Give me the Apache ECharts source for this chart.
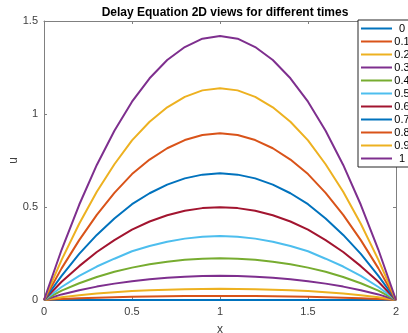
<!DOCTYPE html>
<html>
<head>
<meta charset="utf-8">
<script src="https://cdn.jsdelivr.net/npm/echarts@6/dist/echarts.min.js"></script>
<style>html,body{margin:0;padding:0;background:#fff}#c{width:408px;height:333px}</style>
</head>
<body>
<div id="c"></div>
<script>
const xValues = [0,0.1,0.2,0.3,0.4,0.5,0.6,0.7,0.8,0.9,1.0,1.1,1.2,1.3,1.4,1.5,1.6,1.7,1.8,1.9,2.0];
const times = ['0','0.1','0.2','0.3','0.4','0.5','0.6','0.7','0.8','0.9','1'];
const u_t00 = [0,0,0,0,0,0,0,0,0,0,0,0,0,0,0,0,0,0,0,0,0];
const u_t01 = [0,0.005,0.009,0.012,0.015,0.017,0.019,0.020,0.021,0.022,0.022,0.022,0.021,0.020,0.019,0.017,0.015,0.012,0.009,0.005,0];
const u_t02 = [0,0.015,0.026,0.035,0.042,0.048,0.052,0.055,0.058,0.059,0.060,0.059,0.058,0.055,0.052,0.048,0.042,0.035,0.026,0.015,0];
const u_t03 = [0,0.030,0.052,0.072,0.088,0.101,0.111,0.119,0.125,0.129,0.131,0.129,0.125,0.119,0.111,0.101,0.088,0.072,0.052,0.030,0];
const u_t04 = [0,0.050,0.090,0.124,0.152,0.174,0.192,0.206,0.216,0.222,0.224,0.222,0.216,0.206,0.192,0.174,0.152,0.124,0.090,0.050,0];
const u_t05 = [0,0.070,0.130,0.180,0.222,0.262,0.290,0.313,0.330,0.340,0.344,0.340,0.330,0.313,0.290,0.262,0.222,0.180,0.130,0.070,0];
const u_t06 = [0,0.098,0.182,0.258,0.322,0.378,0.422,0.456,0.480,0.494,0.498,0.494,0.480,0.456,0.422,0.378,0.322,0.258,0.182,0.098,0];
const u_t07 = [0,0.130,0.248,0.350,0.438,0.515,0.574,0.620,0.654,0.674,0.681,0.674,0.654,0.620,0.574,0.515,0.438,0.350,0.248,0.130,0];
const u_t08 = [0,0.170,0.322,0.458,0.576,0.677,0.755,0.816,0.860,0.887,0.896,0.887,0.860,0.816,0.755,0.677,0.576,0.458,0.322,0.170,0];
const u_t09 = [0,0.216,0.410,0.582,0.730,0.858,0.958,1.036,1.092,1.127,1.138,1.127,1.092,1.036,0.958,0.858,0.730,0.582,0.410,0.216,0];
const u_t10 = [0,0.270,0.512,0.726,0.910,1.066,1.192,1.290,1.360,1.405,1.419,1.405,1.360,1.290,1.192,1.066,0.910,0.726,0.512,0.270,0];
const seriesValues = [u_t00,u_t01,u_t02,u_t03,u_t04,u_t05,u_t06,u_t07,u_t08,u_t09,u_t10];
const colors = ['#0072BD','#D95319','#EDB120','#7E2F8E','#77AC30','#4DBEEE','#A2142F','#0072BD','#D95319','#EDB120','#7E2F8E'];
const xTicks = [0,0.5,1,1.5,2];
const yTicks = [0,0.5,1,1.5];

const axisGray = '#808080';
const labelColor = '#404040';
const font = 'Liberation Sans, Arial, sans-serif';

const chart = echarts.init(document.getElementById('c'), null, {renderer:'canvas'});
const fmt = v => String(+v.toFixed(2));
chart.setOption({
  animation: false,
  color: colors,
  title: {
    text: 'Delay Equation 2D views for different times',
    left: 220, textAlign: 'center', top: 2,
    textStyle: {fontFamily: font, fontSize: 12, fontWeight: 'bold', color: '#000'}
  },
  legend: {
    orient: 'vertical', left: 358, top: 20,
    padding: [3, 20, 3, 3],
    backgroundColor: '#fff',
    borderColor: '#262626', borderWidth: 1, borderRadius: 0,
    icon: 'rect', itemWidth: 31, itemHeight: 2, itemGap: 2,
    data: times,
    formatter: n => '{a|' + n + '}',
    textStyle: {fontFamily: font, fontSize: 11, color: '#000', padding: [0,0,0,-2],
      rich: {a: {width: 14, align: 'center', fontFamily: font, fontSize: 11, lineHeight: 11}}}
  },
  grid: {left: 44, right: 12, top: 21, bottom: 33, outerBoundsMode: 'none', containLabel: false},
  xAxis: [{
    type: 'value', min: 0, max: 2, interval: 0.5,
    name: 'x', nameLocation: 'middle', nameGap: 24, nameMoveOverlap: false,
    nameTextStyle: {fontFamily: font, fontSize: 12, color: labelColor},
    axisLine: {show: true, onZero: false, lineStyle: {color: axisGray, width: 1}},
    axisTick: {show: true, inside: true, length: 3, lineStyle: {color: axisGray}},
    axisLabel: {margin: 6, fontFamily: font, fontSize: 11, color: labelColor, formatter: fmt},
    splitLine: {show: false}
  }, {
    type: 'value', min: 0, max: 2, interval: 0.5, position: 'top',
    axisLine: {show: true, onZero: false, lineStyle: {color: axisGray, width: 1}},
    axisTick: {show: true, inside: true, length: 3, lineStyle: {color: axisGray}},
    axisLabel: {show: false}, splitLine: {show: false}
  }],
  yAxis: [{
    type: 'value', min: 0, max: 1.5, interval: 0.5,
    name: 'u', nameLocation: 'middle', nameGap: 24, nameRotate: 90, nameMoveOverlap: false,
    nameTextStyle: {fontFamily: font, fontSize: 12, color: labelColor},
    axisLine: {show: true, onZero: false, lineStyle: {color: axisGray, width: 1}},
    axisTick: {show: true, inside: true, length: 3, lineStyle: {color: axisGray}},
    axisLabel: {margin: 6, fontFamily: font, fontSize: 11, color: labelColor, formatter: fmt},
    splitLine: {show: false}
  }, {
    type: 'value', min: 0, max: 1.5, interval: 0.5, position: 'right',
    axisLine: {show: true, onZero: false, lineStyle: {color: axisGray, width: 1}},
    axisTick: {show: true, inside: true, length: 3, lineStyle: {color: axisGray}},
    axisLabel: {show: false}, splitLine: {show: false}
  }],
  series: seriesValues.map((vals, i) => ({
    name: times[i], type: 'line', xAxisIndex: 0, yAxisIndex: 0,
    showSymbol: false, symbol: 'none', smooth: false, clip: true,
    lineStyle: {width: 2, color: colors[i]},
    itemStyle: {color: colors[i]},
    data: xValues.map((x, j) => [x, vals[j]])
  }))
});
</script>
</body>
</html>
